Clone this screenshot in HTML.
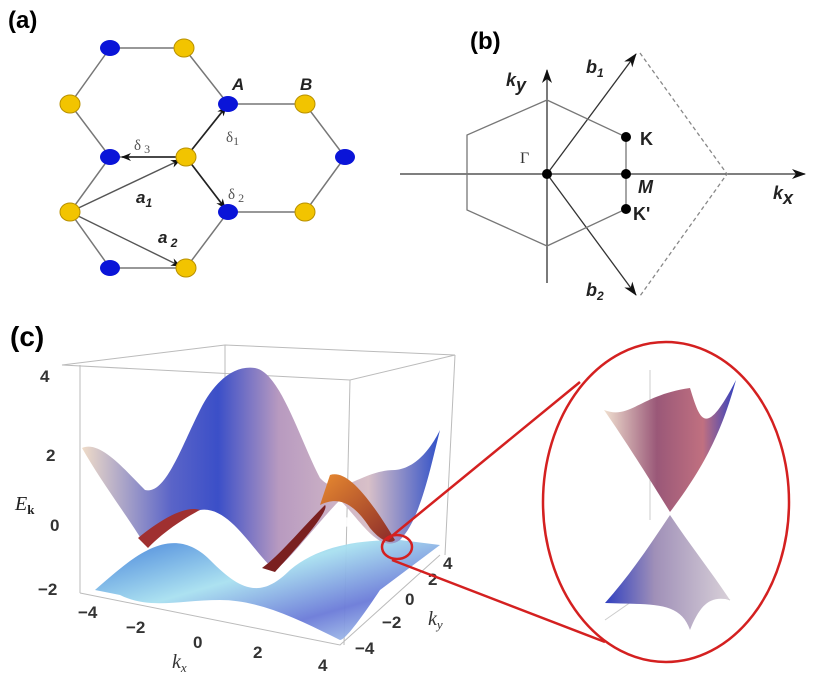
<!DOCTYPE html>
<html><head><meta charset="utf-8"><style>
body{margin:0;background:#fff}
svg{display:block}
text{font-family:"Liberation Sans",sans-serif}
</style></head><body>
<svg width="825" height="686" viewBox="0 0 825 686" xmlns="http://www.w3.org/2000/svg">
<defs>
<marker id="ar" markerWidth="10" markerHeight="8" refX="9" refY="4" orient="auto" markerUnits="userSpaceOnUse"><path d="M0,0 L10,4 L0,8 L3,4z" fill="#111"/></marker>
<marker id="ar2" markerWidth="14" markerHeight="10" refX="13" refY="5" orient="auto" markerUnits="userSpaceOnUse"><path d="M0,0 L14,5 L0,10 L4,5z" fill="#111"/></marker>
<linearGradient id="hump" x1="0" y1="0" x2="1" y2="0">
<stop offset="0" stop-color="#f0dcc8"/><stop offset="0.25" stop-color="#5a64c8"/><stop offset="0.38" stop-color="#3b4fc8"/><stop offset="0.55" stop-color="#b89ac0"/><stop offset="0.8" stop-color="#d8c0c8"/><stop offset="1" stop-color="#3050c8"/></linearGradient>
<linearGradient id="low" x1="0" y1="0" x2="1" y2="1">
<stop offset="0" stop-color="#3a7ad8"/><stop offset="0.4" stop-color="#a8e0f0"/><stop offset="0.7" stop-color="#6a7ad8"/><stop offset="1" stop-color="#c8ecf4"/></linearGradient>
<linearGradient id="orn" x1="0" y1="0" x2="1" y2="1"><stop offset="0" stop-color="#e88a30"/><stop offset="1" stop-color="#8a2a2a"/></linearGradient>
<linearGradient id="cone1" x1="0" y1="0" x2="1" y2="0"><stop offset="0" stop-color="#f0e0d0"/><stop offset="0.4" stop-color="#9a5878"/><stop offset="0.75" stop-color="#c07080"/><stop offset="1" stop-color="#3040c0"/></linearGradient>
<linearGradient id="cone2" x1="0" y1="0" x2="1" y2="0"><stop offset="0" stop-color="#3040c0"/><stop offset="0.4" stop-color="#a090b8"/><stop offset="1" stop-color="#d8d0d8"/></linearGradient>
</defs>

<!-- (a) -->
<text x="8" y="28" font-size="24" font-weight="bold">(a)</text>
<g stroke="#777" stroke-width="1.5" fill="none">
<path d="M110,48 L184,48 L228,104 L305,104 L345,157 L305,212 L228,212 L186,268 L110,268 L70,212 L110,157 L70,104 L110,48"/>
<path d="M110,157 L186,157 M186,157 L228,104 M186,157 L228,212"/>
</g>
<g stroke="#222" stroke-width="1.6" fill="none">
<line x1="186" y1="157" x2="226" y2="107" marker-end="url(#ar)"/>
<line x1="186" y1="157" x2="122" y2="157" marker-end="url(#ar)"/>
<line x1="186" y1="157" x2="225" y2="208" marker-end="url(#ar)"/>
</g>
<g stroke="#555" stroke-width="1.4" fill="none">
<line x1="70" y1="212" x2="180" y2="160" marker-end="url(#ar)"/>
<line x1="70" y1="212" x2="180" y2="266" marker-end="url(#ar)"/>
</g>
<g fill="#0a14d8">
<ellipse cx="110" cy="48" rx="10" ry="8"/><ellipse cx="228" cy="104" rx="10" ry="8"/><ellipse cx="110" cy="157" rx="10" ry="8"/><ellipse cx="345" cy="157" rx="10" ry="8"/><ellipse cx="228" cy="212" rx="10" ry="8"/><ellipse cx="110" cy="268" rx="10" ry="8"/>
</g>
<g fill="#f2c400" stroke="#b89000" stroke-width="1">
<ellipse cx="184" cy="48" rx="10" ry="9"/><ellipse cx="70" cy="104" rx="10" ry="9"/><ellipse cx="305" cy="104" rx="10" ry="9"/><ellipse cx="186" cy="157" rx="10" ry="9"/><ellipse cx="70" cy="212" rx="10" ry="9"/><ellipse cx="305" cy="212" rx="10" ry="9"/><ellipse cx="186" cy="268" rx="10" ry="9"/>
</g>
<g font-size="17" font-weight="bold" font-style="italic" fill="#222">
<text x="232" y="90">A</text><text x="300" y="90">B</text>
<text x="136" y="203">a<tspan font-size="12" dy="4">1</tspan></text>
<text x="158" y="243">a<tspan font-size="12" dy="4"> 2</tspan></text>
</g>
<g font-size="15" fill="#555">
<text x="226" y="142" style="font-family:'Liberation Serif',serif">δ<tspan font-size="12" dy="3">1</tspan></text>
<text x="134" y="150" style="font-family:'Liberation Serif',serif">δ<tspan font-size="12" dy="3"> 3</tspan></text>
<text x="228" y="199" style="font-family:'Liberation Serif',serif">δ<tspan font-size="12" dy="3"> 2</tspan></text>
</g>

<!-- (b) -->
<text x="470" y="49" font-size="24" font-weight="bold">(b)</text>
<g stroke="#333" stroke-width="1.3" fill="none">
<line x1="547" y1="283" x2="547" y2="70" marker-end="url(#ar2)"/>
<line x1="400" y1="174" x2="805" y2="174" marker-end="url(#ar2)"/>
<line x1="547" y1="174" x2="636" y2="54" marker-end="url(#ar2)"/>
<line x1="547" y1="174" x2="636" y2="295" marker-end="url(#ar2)"/>
</g>
<path d="M547,100 L467,135 L467,210 L547,246 L626,209 L626,137 Z" fill="none" stroke="#777" stroke-width="1.3"/>
<path d="M640,53 L727,174 L640,296" fill="none" stroke="#888" stroke-width="1.3" stroke-dasharray="4,3"/>
<g fill="#000"><circle cx="547" cy="174" r="5"/><circle cx="626" cy="137" r="5"/><circle cx="626" cy="174" r="5"/><circle cx="626" cy="209" r="5"/></g>
<g font-size="18" font-weight="bold" font-style="italic" fill="#222">
<text x="506" y="86">k<tspan dy="5">y</tspan></text>
<text x="586" y="73">b<tspan font-size="12" dy="4">1</tspan></text>
<text x="586" y="296">b<tspan font-size="12" dy="4">2</tspan></text>
<text x="640" y="145" font-style="normal">K</text>
<text x="638" y="193">M</text>
<text x="633" y="220" font-style="normal">K'</text>
<text x="773" y="199">k<tspan dy="5">x</tspan></text>
</g>
<text x="520" y="163" font-size="16" fill="#333" style="font-family:'Liberation Serif',serif">Γ</text>

<!-- (c) -->
<text x="10" y="346" font-size="28" font-weight="bold">(c)</text>
<g stroke="#bbb" stroke-width="1" fill="none">
<path d="M62,365 L225,345 L455,355 L350,380 Z"/>
<line x1="225" y1="345" x2="225" y2="470"/>
<line x1="80" y1="365" x2="80" y2="593"/>
<line x1="350" y1="380" x2="344" y2="645"/>
<line x1="455" y1="355" x2="445" y2="555"/>
<path d="M80,593 L340,645 L440,555"/>
</g>
<path d="M95,590 C130,560 170,520 210,560 C240,590 260,600 290,570 C320,545 360,540 400,540 L440,545 C420,560 400,575 380,590 C360,620 345,640 340,640 C300,620 260,600 220,600 C180,600 150,610 120,595 Z" fill="url(#low)" opacity="0.95"/>
<path d="M82,448 C100,440 125,470 145,490 C165,495 180,450 200,410 C215,380 235,365 255,368 C280,372 300,440 320,478 C340,500 360,470 395,470 C420,468 435,440 440,430 C430,470 420,520 400,540 C380,555 360,520 340,500 C320,520 290,560 275,570 C255,555 230,505 200,510 C175,515 160,540 145,545 C130,520 100,480 82,448 Z" fill="url(#hump)"/>
<path d="M138,538 C160,520 185,505 200,510 C190,515 165,530 148,548 Z" fill="#a03030"/>
<path d="M330,475 C345,470 365,490 395,540 C390,545 380,540 370,528 C355,505 340,495 320,505 Z" fill="url(#orn)"/>
<path d="M262,568 C280,555 300,530 325,505 C330,510 300,545 275,572 Z" fill="#7a2020"/>
<ellipse cx="208" cy="530" rx="18" ry="5" fill="#fff" opacity="0.9"/>
<ellipse cx="340" cy="522" rx="18" ry="5" fill="#fff" opacity="0.9"/>
<g font-size="17" font-weight="bold" fill="#333" style="font-family:'Liberation Serif',serif">
<text x="40" y="382">4</text><text x="46" y="461">2</text><text x="50" y="531">0</text><text x="38" y="595">−2</text>
<text x="78" y="618">−4</text><text x="126" y="633">−2</text><text x="193" y="648">0</text><text x="253" y="658">2</text><text x="318" y="671">4</text>
<text x="443" y="569">4</text><text x="428" y="585">2</text><text x="405" y="605">0</text><text x="382" y="628">−2</text><text x="355" y="654">−4</text>
</g>
<text x="15" y="510" font-size="20" font-style="italic" fill="#222" style="font-family:'Liberation Serif',serif">E<tspan font-size="13" dy="4" font-weight="bold" font-style="normal">k</tspan></text>
<text x="172" y="668" font-size="20" font-style="italic" fill="#333" style="font-family:'Liberation Serif',serif">k<tspan font-size="13" dy="4">x</tspan></text>
<text x="428" y="625" font-size="20" font-style="italic" fill="#333" style="font-family:'Liberation Serif',serif">k<tspan font-size="13" dy="4">y</tspan></text>

<g stroke="#d42020" stroke-width="2.5" fill="none">
<ellipse cx="397" cy="547" rx="15" ry="12"/>
<line x1="387" y1="540" x2="580" y2="382"/>
<line x1="392" y1="560" x2="605" y2="642"/>
<ellipse cx="666" cy="502" rx="123" ry="160"/>
</g>
<g stroke="#ccc" stroke-width="1" fill="none">
<line x1="650" y1="370" x2="650" y2="520"/>
<path d="M605,620 L670,575 L730,600"/>
</g>
<path d="M604,410 C630,420 640,395 690,388 C700,420 705,440 736,380 C725,420 710,460 670,512 C650,480 625,440 604,410 Z" fill="url(#cone1)"/>
<path d="M670,515 C690,545 710,570 730,600 C710,595 700,605 690,630 C680,600 650,605 605,603 C630,575 650,545 670,515 Z" fill="url(#cone2)"/>
</svg>
</body></html>
